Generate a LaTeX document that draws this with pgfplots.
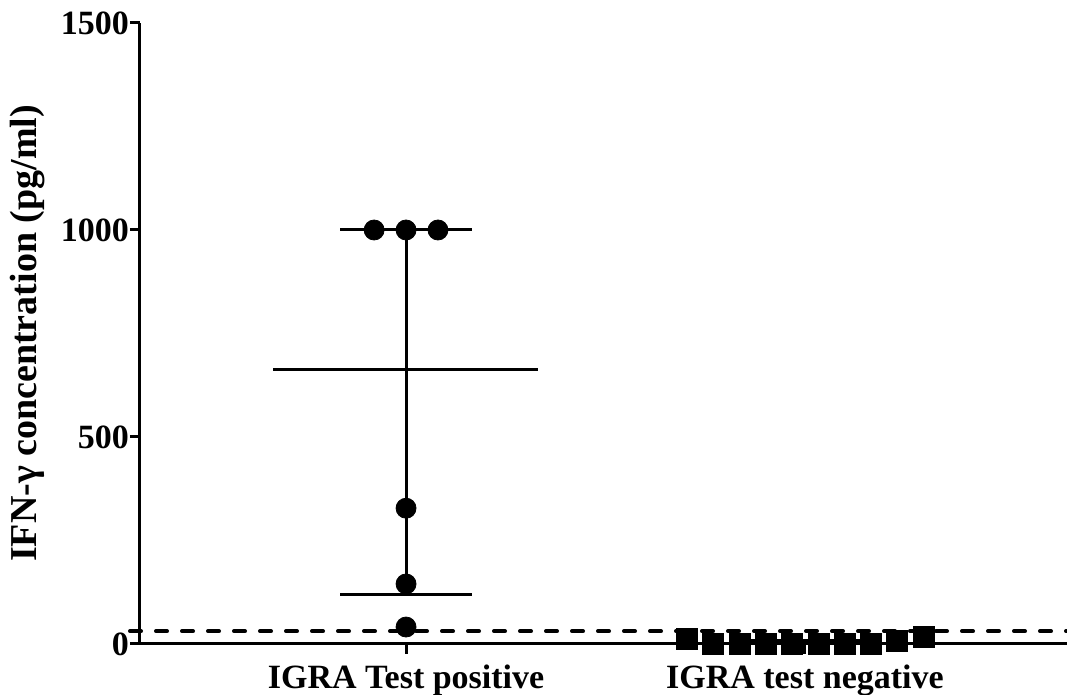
\documentclass[border=0pt]{standalone}
\usepackage{pgfplots}
\pgfplotsset{compat=1.18}
\usepackage{fontspec}
\setmainfont{Liberation Serif}
\begin{document}
\begin{tikzpicture}
\path[use as bounding box] (-70pt,-25.5pt) rectangle (463.5pt,322pt);
\begin{axis}[
  scale only axis, width=463.5pt, height=310.5pt,
  xmin=0.333, xmax=2.657, ymin=0, ymax=1500,
  clip=false,
  axis x line=bottom, axis y line=left,
  axis line style={-, line width=1.5pt},
  every tick/.style={line width=1.5pt, black},
  major tick length=5pt, tick align=outside,
  xtick={1,2}, xticklabels={IGRA Test positive, IGRA test negative},
  ytick={0,500,1000,1500},
  /pgf/number format/assume math mode=true,
  /pgf/number format/set thousands separator={},
  ticklabel style={font=\fontsize{17}{20}\selectfont\bfseries},
  yticklabel style={xshift=3pt},
  xticklabel style={yshift=-2pt},
  ylabel={IFN-γ concentration (pg/ml)},
  ylabel style={font=\fontsize{19}{22}\selectfont\bfseries, yshift=1pt},
]
% group 1 summary lines
\addplot[black, line width=1.5pt] coordinates {(0.667,664) (1.331,664)};
\addplot[black, line width=1.5pt] coordinates {(0.835,119) (1.165,119)};
\addplot[black, line width=1.5pt] coordinates {(0.835,1000) (1.165,1000)};
\addplot[black, line width=1.5pt] coordinates {(1,119) (1,1000)};
% group 2 summary lines
\addplot[black, line width=1.5pt] coordinates {(1.667,0) (2.331,0)};
\addplot[black, line width=1.5pt] coordinates {(1.835,8.5) (2.165,8.5)};
% cutoff
\addplot[black, line width=2pt, line cap=round, dash pattern=on 5.5pt off 7.5pt] coordinates {(0.308,31) (2.657,31)};
% group 1 points
\addplot[only marks, mark=*, mark size=5pt, black] coordinates {
(0.92,1000) (1.0,1000) (1.08,1000) (1.0,328) (1.0,145) (1.0,41)};
% group 2 points
\addplot[only marks, mark=square*, mark size=5.25pt, black] coordinates {
(1.704,13) (1.769,0) (1.837,0) (1.902,0) (1.967,0) (2.035,0) (2.100,0) (2.165,0) (2.231,7) (2.298,17)};
\end{axis}
\end{tikzpicture}
\end{document}
